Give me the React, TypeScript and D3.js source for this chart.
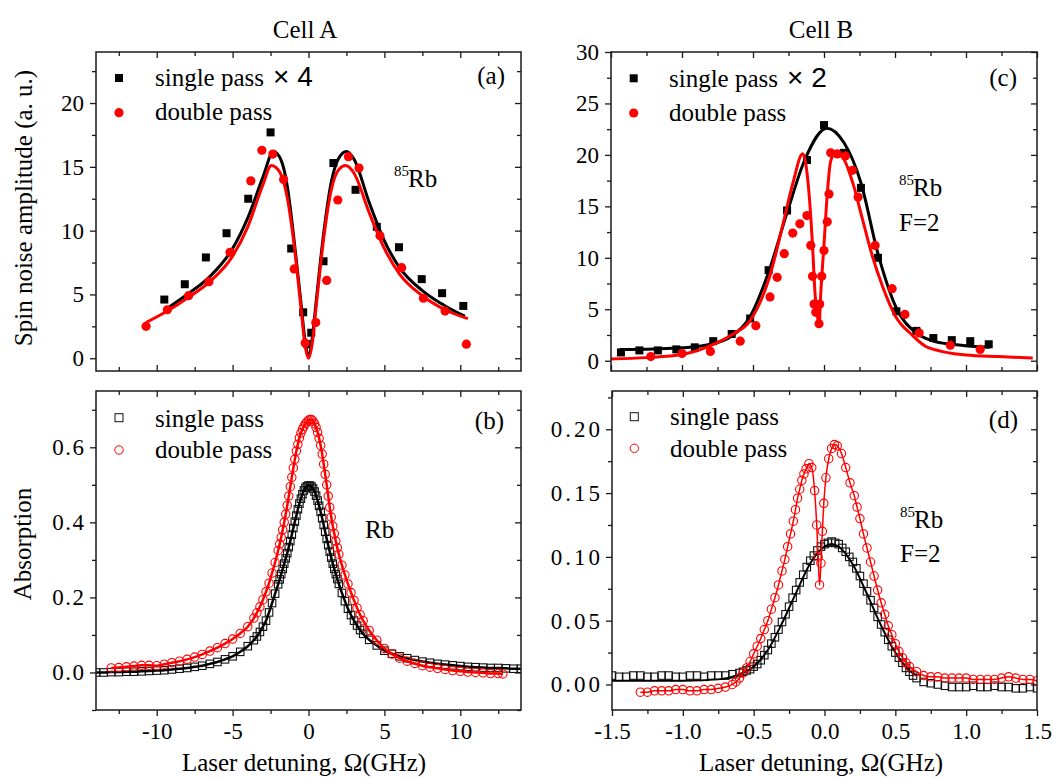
import React, { useEffect, useRef } from 'react';
import * as d3 from 'd3';

type P = [number, number];

const SERIF = '"Liberation Serif", "Times New Roman", serif';
const SANS = '"Liberation Sans", Arial, sans-serif';
const RED = '#ff0000';

// (a) spin noise, cell A  [detuning GHz, amplitude]
const aSingle: P[] = [[-9.5, 4.6], [-8.15, 5.8], [-6.76, 7.9], [-5.4, 9.8], [-3.97, 12.5], [-2.5, 17.7], [-1.14, 8.6], [-0.35, 3.6], [-0.07, 1.1], [0.18, 2.0], [0.99, 7.6], [1.64, 15.3], [3.1, 13.2], [4.5, 10.3], [5.96, 8.7], [7.46, 6.2], [8.8, 5.1], [10.2, 4.1]];
const aDouble: P[] = [[-10.7, 2.5], [-9.3, 3.8], [-7.9, 4.9], [-6.56, 6.0], [-5.17, 8.3], [-3.8, 13.9], [-3.07, 16.3], [-2.35, 16.0], [-1.64, 14.0], [-0.94, 7.0], [-0.22, 1.2], [0.48, 2.8], [1.2, 6.1], [1.93, 12.4], [2.63, 15.8], [3.33, 14.9], [4.71, 9.6], [6.14, 7.1], [7.57, 4.7], [9.0, 3.7], [10.4, 1.1]];
const aSingleFit: P[] = [[-9.2, 4.0], [-8, 5.0], [-6.5, 6.4], [-5, 8.6], [-4, 11.0], [-3, 14.2], [-2.3, 16.2], [-1.8, 15.5], [-1.4, 13.5], [-1, 9.8], [-0.5, 4.4], [-0.25, 1.6], [0, 0.3], [0.25, 1.6], [0.5, 4.4], [1, 9.8], [1.5, 13.8], [2, 15.7], [2.5, 16.2], [3, 15.6], [4, 12.2], [5, 9.2], [6, 7.1], [7.5, 5.3], [9, 4.1], [10.3, 3.3]];
const aDoubleFit: P[] = [[-10.7, 2.8], [-9.3, 3.7], [-8, 4.7], [-6.5, 6.0], [-5, 8.0], [-4, 10.3], [-3, 13.6], [-2.45, 15.1], [-1.9, 14.6], [-1.4, 12.6], [-1, 9.4], [-0.5, 4.0], [-0.25, 1.2], [0, 0.0], [0.25, 1.2], [0.5, 4.0], [1, 9.4], [1.5, 13.2], [2, 14.8], [2.45, 15.1], [3, 14.5], [4, 11.4], [5, 8.6], [6, 6.6], [7.5, 4.9], [9, 3.8], [10.5, 3.1]];

// (b) absorption, cell A
const bSingle: P[] = [[-14, 0.0], [-13.5, 0.0], [-13, 0.001], [-12.5, 0.001], [-12, 0.002], [-11.5, 0.002], [-11, 0.003], [-10.5, 0.004], [-10, 0.005], [-9.5, 0.006], [-9, 0.008], [-8.5, 0.01], [-8, 0.012], [-7.5, 0.015], [-7, 0.018], [-6.5, 0.023], [-6, 0.028], [-5.5, 0.035], [-5, 0.043], [-4.5, 0.055], [-4, 0.07], [-3.6, 0.086], [-3.4, 0.096], [-3.2, 0.108], [-3.0, 0.122], [-2.8, 0.138], [-2.6, 0.16], [-2.4, 0.185], [-2.2, 0.21],
  [-2.0, 0.235], [-1.9, 0.248], [-1.8, 0.262], [-1.7, 0.276], [-1.6, 0.29], [-1.5, 0.304], [-1.4, 0.318], [-1.3, 0.334], [-1.2, 0.35], [-1.1, 0.367], [-1.0, 0.385], [-0.9, 0.402], [-0.8, 0.418], [-0.7, 0.435], [-0.6, 0.45], [-0.5, 0.463], [-0.4, 0.475], [-0.3, 0.485], [-0.2, 0.492], [-0.1, 0.496], [0, 0.498], [0.1, 0.498], [0.2, 0.495], [0.3, 0.49], [0.4, 0.482], [0.5, 0.471], [0.6, 0.458], [0.7, 0.444], [0.8, 0.428], [0.9, 0.411], [1.0, 0.393], [1.1, 0.375], [1.2, 0.356], [1.3, 0.339], [1.4, 0.322], [1.5, 0.306], [1.6, 0.29], [1.7, 0.276], [1.8, 0.262], [1.9, 0.249], [2.0, 0.236],
  [2.2, 0.212], [2.4, 0.19], [2.6, 0.17], [2.8, 0.153], [3.0, 0.138], [3.2, 0.125], [3.4, 0.113], [3.6, 0.103], [4, 0.087], [4.5, 0.072], [5, 0.058], [5.5, 0.05], [6, 0.043], [6.5, 0.038], [7, 0.033], [7.5, 0.029], [8, 0.026], [8.5, 0.023], [9, 0.021], [9.5, 0.019], [10, 0.017], [10.5, 0.015], [11, 0.014], [11.5, 0.013], [12, 0.012], [12.5, 0.012], [13, 0.011], [13.5, 0.01], [14, 0.01]];
const bDouble: P[] = [[-13, 0.012], [-12.5, 0.013], [-12, 0.015], [-11.5, 0.017], [-11, 0.019], [-10.5, 0.019], [-10, 0.018], [-9.5, 0.022], [-9, 0.026], [-8.5, 0.03], [-8, 0.035], [-7.5, 0.041], [-7, 0.048], [-6.5, 0.057], [-6, 0.066], [-5.5, 0.077], [-5, 0.089], [-4.5, 0.104], [-4, 0.122], [-3.6, 0.145], [-3.4, 0.159], [-3.2, 0.175], [-3.0, 0.194], [-2.8, 0.215], [-2.6, 0.238], [-2.4, 0.265], [-2.2, 0.293],
  [-2.0, 0.325], [-1.9, 0.342], [-1.8, 0.36], [-1.7, 0.38], [-1.6, 0.4], [-1.5, 0.422], [-1.4, 0.445], [-1.3, 0.47], [-1.2, 0.495], [-1.1, 0.52], [-1.0, 0.545], [-0.9, 0.568], [-0.8, 0.59], [-0.7, 0.608], [-0.6, 0.625], [-0.5, 0.638], [-0.4, 0.648], [-0.3, 0.656], [-0.2, 0.663], [-0.1, 0.668], [0, 0.672], [0.1, 0.674], [0.2, 0.674], [0.3, 0.67], [0.4, 0.663], [0.5, 0.653], [0.6, 0.64], [0.7, 0.624], [0.8, 0.605], [0.9, 0.582], [1.0, 0.555], [1.1, 0.528], [1.2, 0.5], [1.3, 0.47], [1.4, 0.44], [1.5, 0.414], [1.6, 0.39], [1.7, 0.37], [1.8, 0.35], [1.9, 0.332], [2.0, 0.315],
  [2.2, 0.286], [2.4, 0.26], [2.6, 0.236], [2.8, 0.213], [3.0, 0.192], [3.2, 0.172], [3.4, 0.154], [3.6, 0.138], [4, 0.112], [4.5, 0.086], [5, 0.064], [5.5, 0.049], [6, 0.038], [6.5, 0.03], [7, 0.024], [7.5, 0.018], [8, 0.014], [8.5, 0.011], [9, 0.008], [9.5, 0.005], [10, 0.003], [10.5, 0.001], [11, 0.0], [11.5, -0.001], [12, -0.003], [12.5, -0.003], [12.8, -0.004]];

// (c) spin noise, cell B
const cSingle: P[] = [[-1.43, 0.8], [-1.3, 1.0], [-1.17, 1.0], [-1.04, 1.1], [-0.91, 1.3], [-0.78, 1.9], [-0.65, 2.6], [-0.52, 4.1], [-0.39, 8.8], [-0.26, 14.6], [-0.12, 19.5], [0.0, 22.9], [0.14, 20.2], [0.26, 16.8], [0.38, 10.0], [0.51, 4.8], [0.65, 2.9], [0.77, 2.2], [0.9, 2.0], [1.03, 1.9], [1.16, 1.6]];
const cDouble: P[] = [[-1.22, 0.4], [-1.0, 0.7], [-0.8, 0.9], [-0.59, 1.9], [-0.48, 3.4], [-0.38, 6.2], [-0.33, 8.1], [-0.28, 10.4], [-0.22, 12.4], [-0.17, 13.3], [-0.12, 14.1], [-0.093, 11.2], [-0.081, 8.2], [-0.07, 5.5], [-0.058, 4.7], [-0.035, 3.6], [-0.03, 5.5], [-0.016, 8.2], [0.0, 10.7], [0.023, 13.5], [0.035, 16.2], [0.047, 20.2], [0.093, 20.1], [0.15, 19.9], [0.2, 18.5], [0.24, 15.9], [0.36, 11.2], [0.48, 7.0], [0.57, 4.5], [0.67, 2.7], [0.89, 1.5], [1.1, 1.1]];
const cSingleFit: P[] = [[-1.44, 1.1], [-1.2, 1.15], [-1.0, 1.25], [-0.8, 1.6], [-0.65, 2.4], [-0.52, 4.3], [-0.39, 8.6], [-0.26, 14.4], [-0.13, 19.7], [0.02, 22.6], [0.14, 21.2], [0.26, 17.3], [0.38, 10.4], [0.51, 5.1], [0.64, 2.8], [0.77, 1.9], [0.9, 1.6], [1.17, 1.3]];
const cDoubleFit: P[] = [[-1.5, 0.16], [-1.25, 0.3], [-1.0, 0.6], [-0.76, 1.7], [-0.64, 2.6], [-0.52, 3.9], [-0.38, 8.3], [-0.29, 13.2], [-0.22, 17.2], [-0.15, 20.1], [-0.105, 16.2], [-0.08, 11.0], [-0.063, 6.5], [-0.047, 4.5], [-0.035, 3.3], [-0.023, 6.5], [0.0, 11.3], [0.023, 16.2], [0.047, 19.4], [0.077, 20.1], [0.128, 19.8], [0.2, 17.4], [0.27, 13.8], [0.34, 10.2], [0.41, 7.3], [0.5, 4.4], [0.62, 2.5], [0.73, 1.3], [1.0, 0.55], [1.23, 0.4], [1.47, 0.26]];

// (d) absorption, cell B
const dSingle: P[] = [[-1.5, 0.007], [-1.45, 0.006], [-1.4, 0.006], [-1.35, 0.007], [-1.3, 0.007], [-1.25, 0.006], [-1.2, 0.006], [-1.15, 0.007], [-1.1, 0.007], [-1.05, 0.006], [-1.0, 0.006], [-0.95, 0.007], [-0.9, 0.007], [-0.85, 0.006], [-0.8, 0.007], [-0.75, 0.007], [-0.7, 0.007], [-0.65, 0.008],
  [-0.6, 0.009], [-0.575, 0.01], [-0.55, 0.011], [-0.525, 0.012], [-0.5, 0.014], [-0.475, 0.016], [-0.45, 0.019], [-0.425, 0.023], [-0.4, 0.027], [-0.375, 0.032], [-0.35, 0.037], [-0.325, 0.043], [-0.3, 0.049], [-0.275, 0.055], [-0.25, 0.061], [-0.225, 0.068], [-0.2, 0.074], [-0.175, 0.08], [-0.15, 0.086], [-0.125, 0.092], [-0.1, 0.097], [-0.075, 0.101], [-0.05, 0.105], [-0.025, 0.108], [0, 0.11], [0.025, 0.111], [0.05, 0.112], [0.075, 0.111], [0.1, 0.11], [0.125, 0.107], [0.15, 0.104], [0.175, 0.1], [0.2, 0.096], [0.225, 0.091], [0.25, 0.085], [0.275, 0.079], [0.3, 0.073], [0.325, 0.066], [0.35, 0.06], [0.375, 0.053], [0.4, 0.047], [0.425, 0.041], [0.45, 0.035], [0.475, 0.03], [0.5, 0.025], [0.525, 0.021], [0.55, 0.017], [0.575, 0.013], [0.6, 0.01], [0.625, 0.007], [0.65, 0.005],
  [0.7, 0.002], [0.75, 0.001], [0.8, 0.0], [0.85, -0.001], [0.9, -0.002], [0.95, -0.002], [1.0, -0.002], [1.05, -0.001], [1.1, -0.002], [1.15, -0.002], [1.2, -0.001], [1.25, -0.002], [1.3, -0.002], [1.35, -0.003], [1.4, -0.003], [1.45, -0.002], [1.5, -0.003]];
const dDouble: P[] = [[-1.3, -0.006], [-1.25, -0.006], [-1.2, -0.005], [-1.15, -0.005], [-1.1, -0.005], [-1.05, -0.004], [-1.0, -0.004], [-0.95, -0.005], [-0.9, -0.005], [-0.85, -0.004], [-0.8, -0.004], [-0.75, -0.003], [-0.7, -0.002],
  [-0.65, 0.0], [-0.625, 0.002], [-0.6, 0.005], [-0.575, 0.009], [-0.55, 0.013], [-0.525, 0.018], [-0.5, 0.024], [-0.475, 0.03], [-0.45, 0.036], [-0.425, 0.043], [-0.4, 0.05], [-0.375, 0.059], [-0.35, 0.068], [-0.325, 0.078], [-0.3, 0.089],
  [-0.28, 0.098], [-0.26, 0.108], [-0.24, 0.118], [-0.22, 0.128], [-0.205, 0.137], [-0.19, 0.146], [-0.175, 0.153], [-0.16, 0.16], [-0.145, 0.165], [-0.13, 0.169], [-0.11, 0.173], [-0.09, 0.17], [-0.07, 0.152], [-0.055, 0.125], [-0.045, 0.1], [-0.035, 0.078], [-0.025, 0.095], [-0.015, 0.12], [-0.005, 0.142],
  [0.01, 0.162], [0.03, 0.177], [0.05, 0.185], [0.07, 0.188], [0.09, 0.187], [0.12, 0.181], [0.15, 0.17], [0.18, 0.158], [0.21, 0.148], [0.23, 0.139], [0.25, 0.13], [0.275, 0.118], [0.3, 0.107], [0.325, 0.096], [0.35, 0.085], [0.375, 0.074], [0.4, 0.064], [0.425, 0.055], [0.45, 0.046], [0.475, 0.039], [0.5, 0.032], [0.525, 0.026], [0.55, 0.021], [0.575, 0.017], [0.6, 0.014],
  [0.65, 0.01], [0.7, 0.007], [0.75, 0.006], [0.8, 0.006], [0.85, 0.005], [0.9, 0.005], [0.95, 0.005], [1.0, 0.005], [1.05, 0.004], [1.1, 0.004], [1.15, 0.004], [1.2, 0.004], [1.25, 0.005], [1.3, 0.006], [1.35, 0.005], [1.4, 0.004], [1.45, 0.004], [1.5, 0.003]];
const dSingleFit: P[] = [[-1.5, 0.003], [-1.0, 0.003], [-0.75, 0.004], [-0.6, 0.008], [-0.5, 0.014], [-0.4, 0.027], [-0.3, 0.048], [-0.2, 0.072], [-0.1, 0.095], [0, 0.108], [0.05, 0.11], [0.1, 0.108], [0.2, 0.094], [0.3, 0.071], [0.4, 0.046], [0.5, 0.025], [0.6, 0.011], [0.65, 0.007]];

const intFmt = (d: number) => String(d);
const fix1 = (d: number) => d.toFixed(1);
const fix2 = (d: number) => d.toFixed(2);
const blank = () => '';

const panels: any[] = [
  { id: 'a', box: [96, 521, 52, 371], xDom: [-14, 14], yDom: [-1, 24],
    xMajor: [-10, -5, 0, 5, 10], xMinor: [-12.5, -7.5, -2.5, 2.5, 7.5, 12.5],
    yMajor: [0, 5, 10, 15, 20], yMinor: [2.5, 7.5, 12.5, 17.5, 22.5], yFmt: intFmt, xFmt: null, ySpacing: 0 },
  { id: 'b', box: [96, 521, 391, 710], xDom: [-14, 14], yDom: [-0.1, 0.75],
    xMajor: [-10, -5, 0, 5, 10], xMinor: [-12.5, -7.5, -2.5, 2.5, 7.5, 12.5],
    yMajor: [0, 0.2, 0.4, 0.6], yMinor: [-0.1, 0.1, 0.3, 0.5, 0.7], yFmt: fix1, xFmt: intFmt, ySpacing: 1.5 },
  { id: 'c', box: [611, 1037, 52, 371], xDom: [-1.5, 1.5], yDom: [-1, 30],
    xMajor: [-1.5, -1, -0.5, 0, 0.5, 1, 1.5], xMinor: [-1.25, -0.75, -0.25, 0.25, 0.75, 1.25],
    yMajor: [0, 5, 10, 15, 20, 25, 30], yMinor: [2.5, 7.5, 12.5, 17.5, 22.5, 27.5], yFmt: intFmt, xFmt: null, ySpacing: 0 },
  { id: 'd', box: [612, 1037, 391, 710], xDom: [-1.5, 1.5], yDom: [-0.02, 0.23],
    xMajor: [-1.5, -1, -0.5, 0, 0.5, 1, 1.5], xMinor: [-1.25, -0.75, -0.25, 0.25, 0.75, 1.25],
    yMajor: [0, 0.05, 0.1, 0.15, 0.2], yMinor: [0.025, 0.075, 0.125, 0.175, 0.225], yFmt: fix2, xFmt: fix1, ySpacing: 3 },
];

function drawPanel(root: any, p: any) {
  const [l, r, t, b] = p.box;
  const x = d3.scaleLinear().domain(p.xDom).range([l, r]);
  const y = d3.scaleLinear().domain(p.yDom).range([b, t]);
  const g = root.append('g');

  const axisG = (axis: any, tx: number, ty: number) => {
    const s = g.append('g').attr('transform', `translate(${tx},${ty})`).call(axis);
    s.select('.domain').remove();
    s.selectAll('line').attr('stroke', '#1a1a1a').attr('stroke-width', 1.3);
    s.selectAll('text').attr('font-family', SERIF).attr('font-size', 23).attr('fill', '#000');
    return s;
  };

  // left: outward, labelled
  const yl = axisG(d3.axisLeft(y).tickValues(p.yMajor).tickSize(6).tickPadding(6 - p.ySpacing).tickFormat(p.yFmt), l, 0);
  if (p.ySpacing) yl.selectAll('text').attr('letter-spacing', p.ySpacing);
  axisG(d3.axisLeft(y).tickValues(p.yMinor).tickSize(4).tickFormat(blank), l, 0);
  // right: inward
  axisG(d3.axisRight(y).tickValues(p.yMajor).tickSize(-6).tickFormat(blank), r, 0);
  axisG(d3.axisRight(y).tickValues(p.yMinor).tickSize(-4).tickFormat(blank), r, 0);
  // top: inward
  axisG(d3.axisTop(x).tickValues(p.xMajor).tickSize(-6).tickFormat(blank), 0, t);
  axisG(d3.axisTop(x).tickValues(p.xMinor).tickSize(-4).tickFormat(blank), 0, t);
  // bottom: outward with labels on lower panels, inward otherwise
  if (p.xFmt) {
    axisG(d3.axisBottom(x).tickValues(p.xMajor).tickSize(6).tickPadding(7).tickFormat(p.xFmt), 0, b);
    axisG(d3.axisBottom(x).tickValues(p.xMinor).tickSize(4).tickFormat(blank), 0, b);
  } else {
    axisG(d3.axisBottom(x).tickValues(p.xMajor).tickSize(-6).tickFormat(blank), 0, b);
    axisG(d3.axisBottom(x).tickValues(p.xMinor).tickSize(-4).tickFormat(blank), 0, b);
  }

  g.append('clipPath').attr('id', `clip-${p.id}`)
    .append('rect').attr('x', l).attr('y', t).attr('width', r - l).attr('height', b - t);
  const layer = g.append('g').attr('clip-path', `url(#clip-${p.id})`);

  const line = d3.line<P>().x(d => x(d[0])).y(d => y(d[1])).curve(d3.curveMonotoneX);

  return { x, y, layer, line, frame: () => g.append('rect').attr('x', l).attr('y', t).attr('width', r - l).attr('height', b - t)
    .attr('fill', 'none').attr('stroke', '#1a1a1a').attr('stroke-width', 1.5) };
}

function squares(layer: any, x: any, y: any, data: P[], size: number, filled: boolean) {
  layer.append('g').selectAll('rect').data(data).enter().append('rect')
    .attr('x', (d: P) => x(d[0]) - size / 2).attr('y', (d: P) => y(d[1]) - size / 2)
    .attr('width', size).attr('height', size)
    .attr('fill', filled ? '#000' : 'none').attr('stroke', filled ? 'none' : '#111').attr('stroke-width', 1.1);
}

function circles(layer: any, x: any, y: any, data: P[], r: number, filled: boolean) {
  layer.append('g').selectAll('circle').data(data).enter().append('circle')
    .attr('cx', (d: P) => x(d[0])).attr('cy', (d: P) => y(d[1])).attr('r', r)
    .attr('fill', filled ? RED : 'none').attr('stroke', filled ? 'none' : RED).attr('stroke-width', 1.1);
}

function path(layer: any, line: any, data: P[], color: string, w: number) {
  layer.append('path').attr('d', line(data)).attr('fill', 'none').attr('stroke', color).attr('stroke-width', w);
}

function text(svg: any, str: string, x: number, y: number, size: number, anchor = 'start') {
  return svg.append('text').attr('x', x).attr('y', y).attr('font-family', SERIF).attr('font-size', size)
    .attr('text-anchor', anchor).attr('fill', '#000').text(str);
}

function legend(svg: any, mx: number, sy: number, cy: number, tx: number, filled: boolean, factor: string | null, tsy: number, tcy: number) {
  const s = 8;
  svg.append('rect').attr('x', mx - s / 2).attr('y', sy - s / 2).attr('width', s).attr('height', s)
    .attr('fill', filled ? '#000' : 'none').attr('stroke', filled ? 'none' : '#111').attr('stroke-width', 1);
  svg.append('circle').attr('cx', mx).attr('cy', cy).attr('r', filled ? 4.6 : 4.2)
    .attr('fill', filled ? RED : 'none').attr('stroke', filled ? 'none' : RED).attr('stroke-width', 1);
  const t1 = text(svg, 'single pass', tx, tsy, 25);
  if (factor) {
    t1.append('tspan').attr('font-family', SANS).attr('font-size', 28).attr('dx', 9).text(factor);
  }
  text(svg, 'double pass', tx, tcy, 25);
}

function rb(svg: any, x: number, y: number, iso: boolean) {
  if (iso) {
    text(svg, '85', x, y - 11, 15);
    text(svg, 'Rb', x + 14, y, 25);
  } else {
    text(svg, 'Rb', x, y, 25);
  }
}

export default function App() {
  const svgRef = useRef<SVGSVGElement>(null);

  useEffect(() => {
    if (!svgRef.current) return;
    const svg = d3.select(svgRef.current);
    svg.selectAll('*').remove();
    svg.append('rect').attr('width', 1062).attr('height', 779).attr('fill', '#fff');

    // (a)
    const pa = drawPanel(svg, panels[0]);
    squares(pa.layer, pa.x, pa.y, aSingle, 8, true);
    path(pa.layer, pa.line, aSingleFit, '#000', 3);
    circles(pa.layer, pa.x, pa.y, aDouble, 4.6, true);
    path(pa.layer, pa.line, aDoubleFit, RED, 3);
    pa.frame();

    // (b)
    const pb = drawPanel(svg, panels[1]);
    squares(pb.layer, pb.x, pb.y, bSingle, 7.5, false);
    path(pb.layer, pb.line, bSingle, '#000', 2.5);
    circles(pb.layer, pb.x, pb.y, bDouble, 4.2, false);
    path(pb.layer, pb.line, bDouble, RED, 2.5);
    pb.frame();

    // (c)
    const pc = drawPanel(svg, panels[2]);
    squares(pc.layer, pc.x, pc.y, cSingle, 8, true);
    path(pc.layer, pc.line, cSingleFit, '#000', 3);
    circles(pc.layer, pc.x, pc.y, cDouble, 4.6, true);
    path(pc.layer, pc.line, cDoubleFit, RED, 3);
    pc.frame();

    // (d)
    const pd = drawPanel(svg, panels[3]);
    squares(pd.layer, pd.x, pd.y, dSingle, 7.5, false);
    path(pd.layer, pd.line, dSingleFit, '#000', 2);
    circles(pd.layer, pd.x, pd.y, dDouble, 4.2, false);
    path(pd.layer, pd.line, dDouble, RED, 1.5);
    pd.frame();

    // titles
    text(svg, 'Cell A', 305, 38, 25, 'middle');
    text(svg, 'Cell B', 821, 38, 25, 'middle');
    svg.append('text').attr('transform', 'translate(32,208) rotate(-90)').attr('text-anchor', 'middle')
      .attr('font-family', SERIF).attr('font-size', 25).attr('fill', '#000').text('Spin noise amplitude (a. u.)');
    svg.append('text').attr('transform', 'translate(31,544) rotate(-90)').attr('text-anchor', 'middle')
      .attr('font-family', SERIF).attr('font-size', 25).attr('fill', '#000').text('Absorption');
    text(svg, 'Laser detuning, Ω(GHz)', 304, 771, 25, 'middle');
    text(svg, 'Laser detuning, Ω(GHz)', 821, 771, 25, 'middle');

    // legends
    legend(svg, 119, 78, 112.7, 155, true, '× 4', 86, 120);
    legend(svg, 119, 417.7, 450, 155, false, null, 426.5, 458);
    legend(svg, 633.7, 78.3, 113, 669, true, '× 2', 87, 120.5);
    legend(svg, 634.3, 416.7, 448.3, 670, false, null, 425, 456.5);

    // panel letters
    text(svg, '(a)', 505, 84, 25, 'end');
    text(svg, '(b)', 504, 429, 25, 'end');
    text(svg, '(c)', 1017, 86, 25, 'end');
    text(svg, '(d)', 1018, 428, 25, 'end');

    // species labels
    rb(svg, 394, 187, true);
    rb(svg, 365, 538, false);
    rb(svg, 899, 196, true);
    text(svg, 'F=2', 899, 231, 25);
    rb(svg, 900, 528, true);
    text(svg, 'F=2', 900, 562, 25);
  }, []);

  return (
    <svg ref={svgRef} width={1062} height={779}
      style={{ position: 'absolute', left: 0, top: 0, display: 'block' }} />
  );
}
